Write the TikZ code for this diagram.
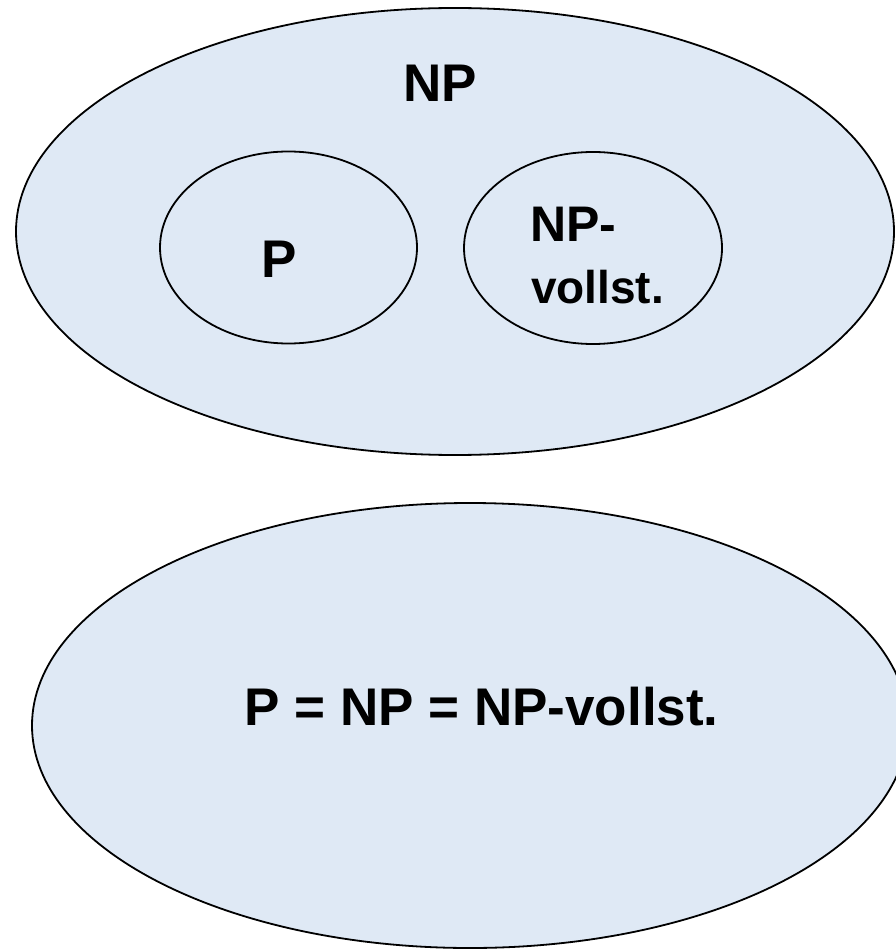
\documentclass[tikz,border=0pt]{standalone}
\usepackage{fontspec}
\setmainfont{Liberation Sans}
\usetikzlibrary{shapes.geometric}
\definecolor{setfill}{RGB}{223,233,245}
\tikzset{
  setell/.style={ellipse, draw=black, line width=1.8pt, fill=setfill, inner sep=0pt, outer sep=0pt},
  lbl/.style={inner sep=0pt, outer sep=0pt, font=\bfseries}
}
\begin{document}
\begin{tikzpicture}[x=1pt,y=-1pt]
\useasboundingbox (0,0) rectangle (895,949);
% top ellipse
\node[setell, minimum width=878pt, minimum height=447pt] (np) at (455,231.5) {};
\node[setell, minimum width=257pt, minimum height=192pt] (p) at (288.5,247.5) {};
\node[setell, minimum width=258pt, minimum height=192pt] (npc) at (593,248) {};
\node[lbl, anchor=base, font=\fontsize{53}{60}\selectfont\bfseries] (tnp) at (440,102) {NP};
\node[lbl, anchor=base, font=\fontsize{53}{60}\selectfont\bfseries] (tp) at (279,277) {P};
\node[lbl, anchor=base west, font=\fontsize{50}{56}\selectfont\bfseries] (tnpc1) at (530.5,242) {NP-};
\node[lbl, anchor=base west, font=\fontsize{46}{52}\selectfont\bfseries] (tnpc2) at (531,303) {vollst.};
% bottom ellipse
\node[setell, minimum width=876pt, minimum height=445pt] (eq) at (470,725.5) {};
\node[lbl, anchor=base, font=\fontsize{53}{60}\selectfont\bfseries] (teq) at (481.5,725) {P = NP = NP-vollst.};
\end{tikzpicture}
\end{document}
